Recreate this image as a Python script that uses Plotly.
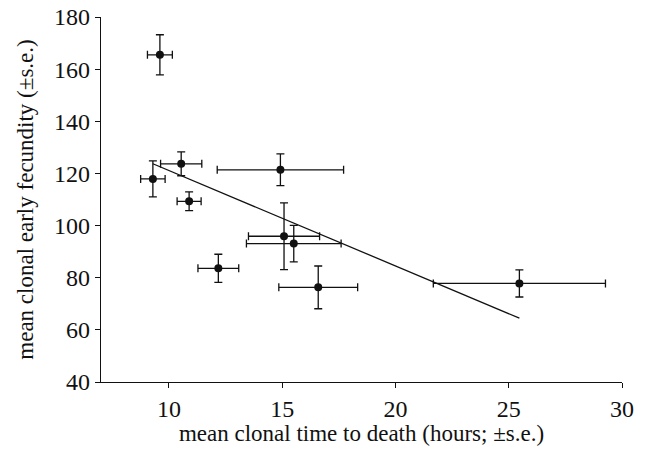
import numpy as np
import plotly.graph_objects as go

# data
time_to_death = [9.6, 9.29, 10.54, 10.89, 14.92, 15.08, 15.51, 12.18, 16.59, 25.47]
time_se = [0.55, 0.54, 0.91, 0.53, 2.79, 1.57, 2.09, 0.9, 1.74, 3.8]
fecundity = [165.5, 117.9, 123.7, 109.3, 121.4, 95.9, 93.1, 83.6, 76.3, 77.8]
fecundity_se = [7.7, 6.9, 4.6, 3.6, 6.1, 12.8, 7.0, 5.4, 8.2, 5.2]

x_ticks = [10, 15, 20, 25, 30]
y_ticks = [40, 60, 80, 100, 120, 140, 160, 180]

# least-squares regression line across the data range
slope, intercept = np.polyfit(time_to_death, fecundity, 1)
xl = np.array([min(time_to_death), max(time_to_death)])
yl = slope * xl + intercept

FONT = "Liberation Serif, Times New Roman, serif"
INK = "#111111"

fig = go.Figure()
fig.add_trace(go.Scatter(
    x=xl, y=yl, mode="lines",
    line=dict(color=INK, width=1.3),
    showlegend=False, hoverinfo="skip",
))
fig.add_trace(go.Scatter(
    x=time_to_death, y=fecundity, mode="markers",
    marker=dict(color=INK, size=8),
    error_x=dict(type="data", array=time_se, color=INK, thickness=1.3, width=4),
    error_y=dict(type="data", array=fecundity_se, color=INK, thickness=1.3, width=4),
    showlegend=False,
))

# the page body has an 8px default margin, so the figure is sized to fit inside it
fig.update_layout(
    width=635, height=438,
    margin=dict(l=93, r=21, t=9, b=64, autoexpand=False),
    paper_bgcolor="white", plot_bgcolor="white",
    font=dict(family=FONT, color=INK, size=23),
    xaxis=dict(
        range=[7, 30], tickvals=x_ticks, showgrid=False, zeroline=False,
        showline=True, linecolor=INK, linewidth=1.2, automargin=False,
        ticks="outside", ticklen=5, tickcolor=INK, tickwidth=1.2,
        tickfont=dict(family=FONT, size=24, color=INK),
        ticklabeloverflow="allow",
        title=dict(text="mean clonal time to death (hours; ±s.e.)",
                   font=dict(family=FONT, size=23, color=INK), standoff=6),
    ),
    yaxis=dict(
        range=[40, 180], tickvals=y_ticks, showgrid=False, zeroline=False,
        showline=True, linecolor=INK, linewidth=1.2, automargin=False,
        ticks="outside", ticklen=5, tickcolor=INK, tickwidth=1.2,
        tickfont=dict(family=FONT, size=24, color=INK),
        ticklabeloverflow="allow",
        title=dict(text="mean clonal early fecundity (±s.e.)",
                   font=dict(family=FONT, size=23, color=INK), standoff=14),
    ),
)

fig.write_html("out.html")
